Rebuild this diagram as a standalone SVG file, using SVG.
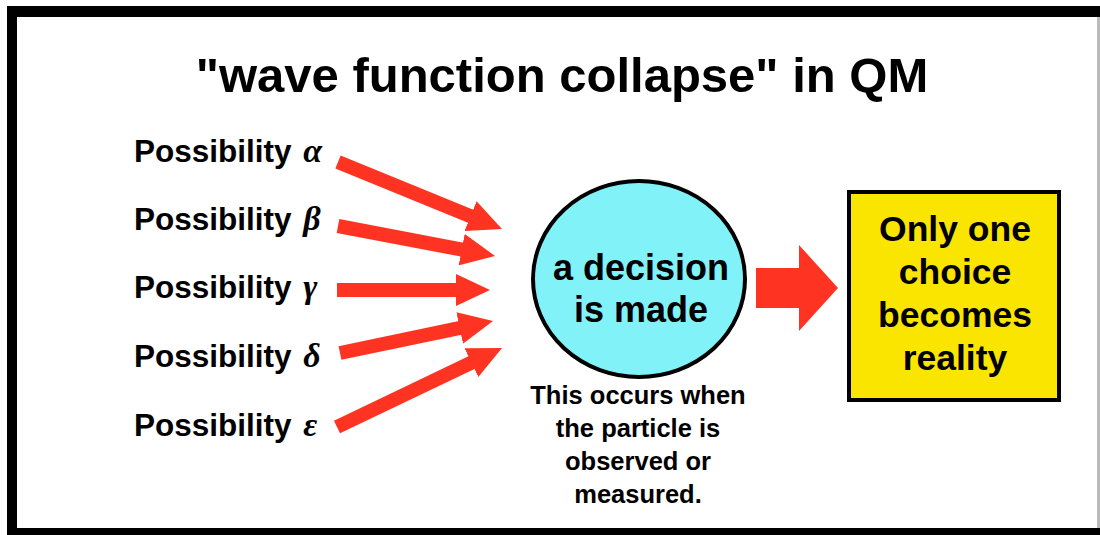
<svg xmlns="http://www.w3.org/2000/svg" width="1100" height="535" viewBox="0 0 1100 535">
<style>
.t{font-family:"Liberation Sans",Arial,Helvetica,sans-serif;font-weight:bold;fill:#000}
.g{font-family:"Liberation Serif","Times New Roman",serif;font-style:italic;font-weight:bold;font-size:34px}
.arr{stroke:#ff3322;stroke-width:14;fill:none}
</style>
<defs>
<marker id="head" markerUnits="userSpaceOnUse" markerWidth="34" markerHeight="32" refX="14" refY="16" orient="auto" viewBox="0 0 34 32">
<path d="M0,0 L34,16 L0,32 Z" fill="#ff3322"/>
</marker>
</defs>
<rect x="0" y="0" width="1100" height="535" fill="#fff"/>
<rect x="7" y="6" width="1093" height="529" fill="#000"/>
<rect x="17" y="17" width="1080" height="511" fill="#fff"/>
<rect x="1097" y="17" width="3" height="511" fill="#bbb"/>

<g id="title">
<text class="t" x="562" y="92" font-size="49" text-anchor="middle">"wave function collapse" in QM</text>
</g>

<g id="possibility-alpha"><text class="t" x="134" y="162" font-size="31.5">Possibility <tspan class="g" dx="3">α</tspan></text></g>
<g id="possibility-beta"><text class="t" x="134" y="230" font-size="31.5">Possibility <tspan class="g" dx="3">β</tspan></text></g>
<g id="possibility-gamma"><text class="t" x="134" y="298" font-size="31.5">Possibility <tspan class="g" dx="3">γ</tspan></text></g>
<g id="possibility-delta"><text class="t" x="134" y="367" font-size="31.5">Possibility <tspan class="g" dx="3">δ</tspan></text></g>
<g id="possibility-epsilon"><text class="t" x="134" y="436" font-size="31.5">Possibility <tspan class="g" dx="3">ε</tspan></text></g>

<g id="connectors">
<line class="arr" x1="338" y1="162" x2="483.5" y2="221.4" marker-end="url(#head)"/>
<line class="arr" x1="338" y1="226" x2="475.4" y2="252.2" marker-end="url(#head)"/>
<line class="arr" x1="337" y1="290" x2="470" y2="290" marker-end="url(#head)"/>
<line class="arr" x1="340" y1="353" x2="473.4" y2="325.1" marker-end="url(#head)"/>
<line class="arr" x1="337" y1="427" x2="484" y2="356.6" marker-end="url(#head)"/>
<polygon points="756,268 799,268 799,245 838,288 799,331 799,308 756,308" fill="#ff3322"/>
</g>

<g id="decision">
<ellipse cx="639" cy="279" rx="106" ry="98" fill="#80f2f8" stroke="#000" stroke-width="4"/>
<text class="t" font-size="36" text-anchor="middle"><tspan x="641" y="280">a decision</tspan><tspan x="641" y="322">is made</tspan></text>
</g>

<g id="note">
<text class="t" font-size="25.5" text-anchor="middle"><tspan x="638" y="404">This occurs when</tspan><tspan x="638" y="437">the particle is</tspan><tspan x="638" y="470">observed or</tspan><tspan x="638" y="503">measured.</tspan></text>
</g>

<g id="reality">
<rect x="849" y="192" width="210" height="208" fill="#fae500" stroke="#000" stroke-width="4"/>
<text class="t" font-size="35.5" text-anchor="middle"><tspan x="955" y="241">Only one</tspan><tspan x="955" y="284">choice</tspan><tspan x="955" y="327">becomes</tspan><tspan x="955" y="370">reality</tspan></text>
</g>
</svg>
